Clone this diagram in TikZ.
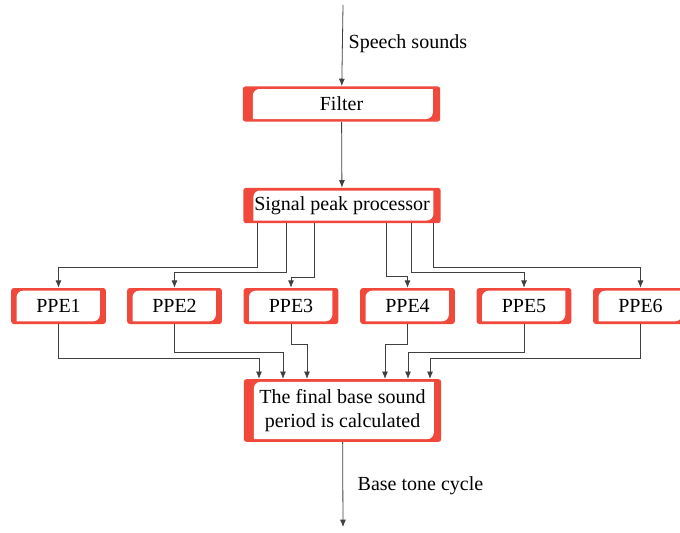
\documentclass[tikz,border=0pt]{standalone}
\usepackage{fontspec}
\setmainfont{Liberation Serif}
\newfontfamily\labelfont{Liberation Serif}
\usetikzlibrary{arrows.meta,calc}
\definecolor{boxred}{RGB}{240,72,58}
\tikzset{>={Latex[length=5.5pt,width=4.5pt]}}
\tikzset{
  stage/.style 2 args={rectangle,fill=boxred,inner sep=0pt,align=center,rounded corners=2pt,
    path picture={
      \coordinate (sw) at ([xshift=#1,yshift=2pt]path picture bounding box.south west);
      \coordinate (ne) at ([xshift=-#2,yshift=-2pt]path picture bounding box.north east);
      \fill[white,sharp corners] (sw) -- ($(sw|-ne)+(0,-5pt)$) arc[start angle=180,end angle=90,radius=5pt]
        -- (ne) -- ($(ne|-sw)+(0,5pt)$) arc[start angle=0,end angle=-90,radius=5pt] -- cycle;}},
  bigstage/.style={stage={7.5pt}{5.5pt},minimum width=148pt,minimum height=26.5pt},
  ppe/.style={stage={4pt}{4.5pt},minimum width=71pt,minimum height=27pt},
  flow/.style={->,draw=black!75,line width=0.6pt}
}

\begin{document}
\begin{tikzpicture}[x=0.75pt,y=-0.75pt,font=\labelfont\fontsize{15}{17.5}\selectfont]
    \useasboundingbox (0,0) rectangle (680,532);

    % main chain
    \coordinate (in) at (343,5);
    \node[bigstage] (filter) at (341.5,104) {Filter};
    \node[bigstage] (spp) at (342,205.5) {Signal peak processor};
    \node[bigstage,minimum height=47pt] (fin) at (342.5,410.5) {The final base sound\\period is calculated};
    \coordinate (out) at (343,527);

    \node[anchor=west] (speech) at (344,43.5) {Speech sounds};
    \node[anchor=west] (tone) at (353,485.5) {Base tone cycle};

    \draw[flow] (in) -- (filter);
    \draw[flow] (filter) -- (spp);
    \draw[flow] (fin) -- (out);

    % the six estimators
    \foreach \i/\x in {1/58.5,2/174.5,3/291,4/407.5,5/524,6/640.5} {
        \node[ppe] (ppe\i) at (\x,306) {PPE\i};
    };

    % fan out from the peak processor
    \foreach \i/\dx/\drop in {1/-85/44,2/-56/49,3/-28/54,4/44/53,5/69/49,6/91/44} {
        \draw[flow] ($(spp.south)+(\dx,0)$) -- ++(0,\drop) -| (ppe\i.north);
    };

    % collect into the last stage
    \foreach \i/\dx/\rise in {1/-83.5/21,2/-59.5/27,3/-35.5/35,4/42.5/35,5/65.5/27,6/87.5/21} {
        \draw[flow] (ppe\i.south) |- ($(fin.north)+(\dx,-\rise)$) -- ($(fin.north)+(\dx,0)$);
    };
\end{tikzpicture}
\end{document}
